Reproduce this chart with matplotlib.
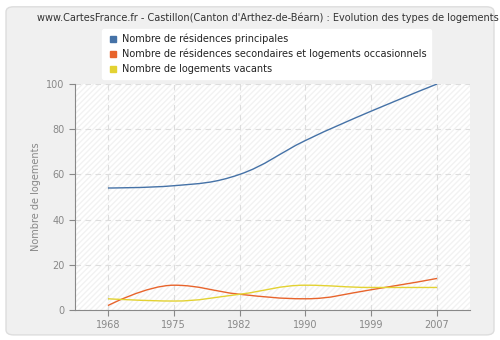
import matplotlib
matplotlib.use('Agg')
import matplotlib.pyplot as plt
from matplotlib.path import Path
from matplotlib.patches import PathPatch, FancyBboxPatch, Rectangle
from matplotlib.lines import Line2D

years = ['1968', '1975', '1982', '1990', '1999', '2007']
principales = [54, 55, 60, 75, 88, 100]
secondaires = [2, 11, 7, 5, 9, 14]
vacants = [5, 4, 7, 11, 10, 10]

series_names = ['Nombre de résidences principales',
                'Nombre de résidences secondaires et logements occasionnels',
                'Nombre de logements vacants']
colors = ['#4572a7', '#e8642c', '#e3d232']

TITLE = "www.CartesFrance.fr - Castillon(Canton d'Arthez-de-Béarn) : Evolution des types de logements"


def spline_path(xs, ys, smoothing=1.5):
    """cubic bezier path through the points, highcharts style"""
    verts = [(xs[0], ys[0])]
    codes = [Path.MOVETO]
    n = len(xs)
    conts = []
    for i in range(n):
        if i == 0 or i == n - 1:
            conts.append(((xs[i], ys[i]), (xs[i], ys[i])))
            continue
        x, y = xs[i], ys[i]
        px, py = xs[i - 1], ys[i - 1]
        nx, ny = xs[i + 1], ys[i + 1]
        d = smoothing + 1
        lx = (smoothing * x + px) / d
        ly = (smoothing * y + py) / d
        rx = (smoothing * x + nx) / d
        ry = (smoothing * y + ny) / d
        corr = ((ry - ly) * (rx - x)) / (rx - lx) + y - ry
        ly += corr
        ry += corr
        if ly > py and ly > y:
            ly = max(py, y)
            ry = 2 * y - ly
        elif ly < py and ly < y:
            ly = min(py, y)
            ry = 2 * y - ly
        if ry > ny and ry > y:
            ry = max(ny, y)
            ly = 2 * y - ry
        elif ry < ny and ry < y:
            ry = min(ny, y)
            ly = 2 * y - ry
        conts.append(((lx, ly), (rx, ry)))
    for i in range(1, n):
        verts += [conts[i - 1][1], conts[i][0], (xs[i], ys[i])]
        codes += [Path.CURVE4] * 3
    return Path(verts, codes)


fig = plt.figure(figsize=(5, 3.4), dpi=100)
fig.patch.set_facecolor('#ffffff')

# outer rounded panel
fig.patches.append(FancyBboxPatch((0.012, 0.015), 0.976, 0.965, boxstyle='round,pad=0,rounding_size=0.015',
                                  transform=fig.transFigure, facecolor='#f0f0f0', edgecolor='#dddddd',
                                  linewidth=1.0, zorder=-1))

ax = fig.add_axes([0.15, 0.088, 0.79, 0.665])
ax.set_zorder(1)
ax.set_facecolor('#ffffff')
ax.add_patch(Rectangle((0, 0), 1, 1, transform=ax.transAxes, facecolor='none', hatch='//////',
                       edgecolor='#f2f2f2', linewidth=0, zorder=0))

x = list(range(len(years)))
for vals, c in zip([principales, secondaires, vacants], colors):
    ax.add_patch(PathPatch(spline_path(x, vals), facecolor='none', edgecolor=c, linewidth=1.0, zorder=3))

ax.set_xlim(-0.5, 5.5)
ax.set_ylim(0, 100)
ax.set_xticks(x)
ax.set_xticklabels(years)
ax.set_yticks([0, 20, 40, 60, 80, 100])

ax.grid(True, color='#dddddd', linestyle=(0, (5, 4)), linewidth=0.8)
ax.set_axisbelow(True)
for s in ['top', 'right']:
    ax.spines[s].set_visible(False)
for s in ['left', 'bottom']:
    ax.spines[s].set_color('#888888')
ax.tick_params(axis='both', colors='#888888', labelcolor='#888888', labelsize=7, length=4, width=0.8)
ax.set_ylabel('Nombre de logements', color='#888888', fontsize=7)

fig.text(0.535, 0.948, TITLE, ha='center', va='center', fontsize=7, color='#333333')

handles = [Line2D([], [], marker='s', linestyle='none', markersize=4, color=c) for c in colors]
leg = fig.legend(handles, series_names, loc='upper left', bbox_to_anchor=(0.195, 0.93), fontsize=7,
                 frameon=True, fancybox=True, framealpha=1, handletextpad=0.3, labelspacing=0.5,
                 borderpad=0.5, handlelength=1.2)
leg.set_zorder(5)
leg.get_frame().set_facecolor('#ffffff')
leg.get_frame().set_edgecolor('#ffffff')
for t in leg.get_texts():
    t.set_color('#222222')

fig.savefig('out.png', dpi=100, facecolor=fig.get_facecolor())
